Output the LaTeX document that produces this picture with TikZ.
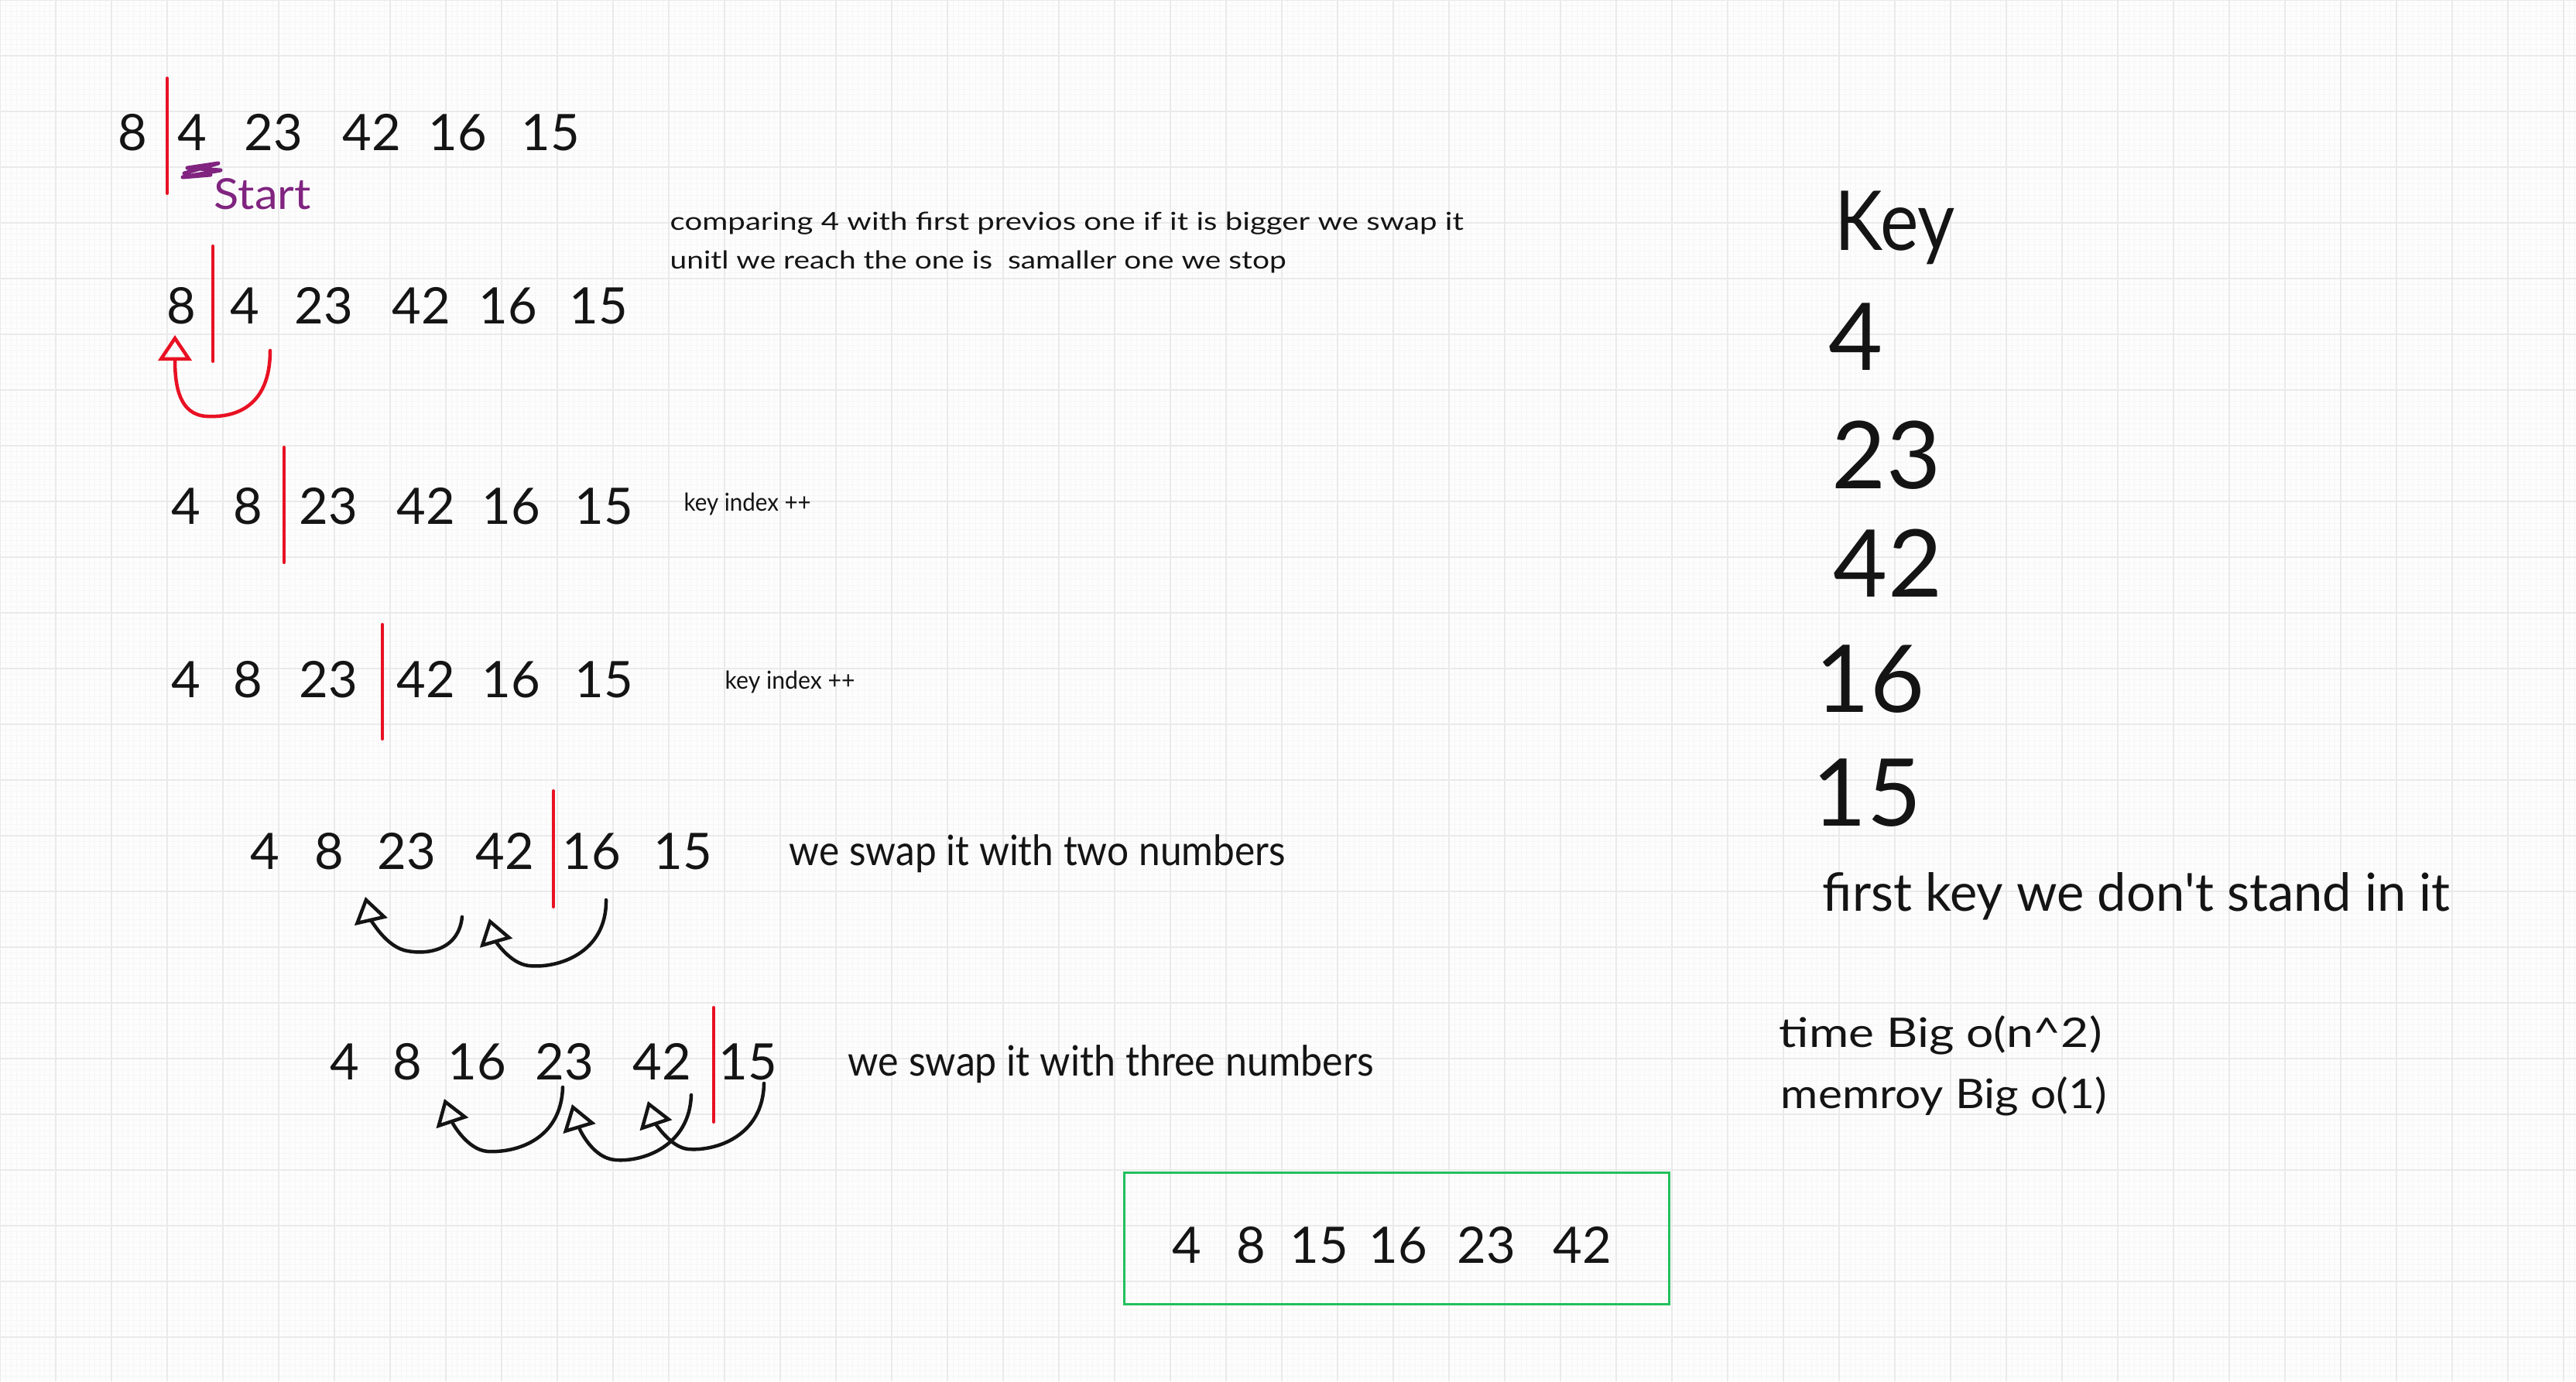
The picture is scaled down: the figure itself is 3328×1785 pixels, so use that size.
\documentclass[tikz,border=0pt]{standalone}
\usepackage{fontspec}
\usepackage{graphicx}
\usetikzlibrary{arrows.meta}
\newfontfamily\hand{Lato}
\definecolor{barred}{RGB}{232,17,35}
\definecolor{ink}{RGB}{20,20,20}
\definecolor{purp}{RGB}{128,36,128}
\definecolor{boxgreen}{RGB}{34,192,92}
\definecolor{gridmaj}{RGB}{234,234,234}
\definecolor{gridmin}{RGB}{246,246,246}
\definecolor{paper}{RGB}{253,253,253}
\newcommand\fitw[2]{\resizebox{#1mm}{\height}{#2}}
\begin{document}
\begin{tikzpicture}[x=0.1mm,y=-0.1mm,
  num/.style={font=\hand\fontsize{18.5}{22}\selectfont, inner sep=0pt, anchor=base, text=ink},
  keynum/.style={font=\hand\fontsize{34.4}{40}\selectfont, inner sep=0pt, anchor=base, text=ink},
  txt/.style={inner sep=0pt, anchor=base west, text=ink},
  small/.style={txt, font=\hand\fontsize{9.1}{11}\selectfont},
  mid/.style={txt, font=\hand\fontsize{15.4}{18}\selectfont},
  redbar/.style={draw=barred, line width=0.4mm, line cap=round},
  swaparrow/.style={draw=ink, line width=0.45mm, line cap=round,
    -{Triangle[open, length=3.3mm, width=4.3mm]}},
  redarrow/.style={swaparrow, draw=barred}]
\fill[paper] (0,0) rectangle (3328,1785);
\useasboundingbox (0,0) rectangle (3328,1785);
\draw[gridmin, line width=0.1mm, step=0.72mm] (0,0) grid (3328,1785);
\draw[gridmaj, line width=0.2mm, step=7.2mm] (0,0) grid (3328,1785);

% row 1
\foreach \x/\t [count=\i] in {171/8,248/4,353/23,480/42,591/16,711/15}
  \node[num] (ra\i) at (\x,194) {\t};
\draw[redbar] (216,101) -- (216,250);
\draw[purp, line width=0.5mm, line cap=round, line join=round]
  (238,224) -- (282,211) -- (242,217) -- (285,220) -- (236,229) -- (272,226);
\node[txt, font=\hand\fontsize{15.7}{18}\selectfont, text=purp] (start) at (276,270) {\fitw{12.5}{Start}};

% comment
\node[small] (c1) at (865,297) {\fitw{102.5}{comparing 4 with first previos one if it is bigger we swap it}};
\node[small] (c2) at (865,347) {\fitw{79.6}{unitl we reach the one is~~samaller one we stop}};

% row 2
\foreach \x/\t [count=\i] in {234/8,316/4,418/23,544/42,656/16,773/15}
  \node[num] (rb\i) at (\x,418) {\t};
\draw[redbar] (275,318) -- (275,467);
\coordinate (a2s) at (349,453);
\coordinate (a2e) at (226,433);
\draw[redarrow] (a2s) .. controls (349,525) and (305,540) .. (267,538)
  .. controls (232,536) and (226,500) .. (a2e);

% row 3
\foreach \x/\t [count=\i] in {240/4,320/8,424/23,550/42,660/16,780/15}
  \node[num] (rc\i) at (\x,677) {\t};
\draw[redbar] (367,578) -- (367,727);
\node[small] (k3) at (883,660) {\fitw{16.4}{key index ++}};

% row 4
\foreach \x/\t [count=\i] in {240/4,320/8,424/23,550/42,660/16,780/15}
  \node[num] (rd\i) at (\x,901) {\t};
\draw[redbar] (494,807) -- (494,955);
\node[small] (k4) at (936,890) {\fitw{16.8}{key index ++}};

% row 5
\foreach \x/\t [count=\i] in {342/4,425/8,525/23,652/42,764/16,882/15}
  \node[num] (re\i) at (\x,1123) {\t};
\draw[redbar] (715,1022) -- (715,1172);
\node[mid] (t5) at (1019,1118) {\fitw{64.1}{we swap it with two numbers}};
\coordinate (e1s) at (597,1185);
\coordinate (e1e) at (472,1159);
\coordinate (e2s) at (783,1163);
\coordinate (e2e) at (632,1187);
\draw[swaparrow] (e1s) .. controls (592,1232) and (545,1234) .. (522,1228)
  .. controls (495,1220) and (478,1185) .. (e1e);
\draw[swaparrow] (e2s) .. controls (784,1232) and (720,1252) .. (683,1248)
  .. controls (658,1245) and (640,1215) .. (e2e);

% row 6
\foreach \x/\t [count=\i] in {445/4,526/8,616/16,729/23,855/42,966/15}
  \node[num] (rf\i) at (\x,1395) {\t};
\draw[redbar] (922,1302) -- (922,1450);
\node[mid] (t6) at (1095,1390) {\fitw{67.9}{we swap it with three numbers}};
\coordinate (f1s) at (727,1405);
\coordinate (f1e) at (574,1420);
\coordinate (f2s) at (893,1415);
\coordinate (f2e) at (739,1427);
\coordinate (f3s) at (987,1400);
\coordinate (f3e) at (837,1423);
\draw[swaparrow] (f1s) .. controls (725,1472) and (668,1490) .. (630,1488)
  .. controls (603,1486) and (584,1450) .. (f1e);
\draw[swaparrow] (f2s) .. controls (891,1480) and (832,1502) .. (795,1499)
  .. controls (766,1497) and (749,1460) .. (f2e);
\draw[swaparrow] (f3s) .. controls (986,1468) and (925,1488) .. (889,1485)
  .. controls (866,1483) and (846,1450) .. (f3e);

% sorted result
\node[draw=boxgreen, line width=0.3mm, minimum width=70.4mm, minimum height=17mm, inner sep=0pt] (sorted) at (1804,1600) {};
\foreach \x/\t [count=\i] in {1533/4,1616/8,1704/15,1806/16,1920/23,2044/42}
  \node[num] (rg\i) at (\x,1632) {\t};

% key column
\node[txt, font=\hand\fontsize{30.4}{36}\selectfont] (key) at (2370,323) {\fitw{15.5}{Key}};
\foreach \x/\y/\t [count=\i] in {2398/478/4,2437/631/23,2439/771/42,2416/920/16,2412/1067/15}
  \node[keynum] (kn\i) at (\x,\y) {\t};
\node[txt, font=\hand\fontsize{19.3}{23}\selectfont] (fk) at (2354,1177) {\fitw{81.1}{first key we don\textquotesingle t stand in it}};

% complexity
\node[txt, font=\hand\fontsize{15}{18}\selectfont] (tm) at (2298,1353) {\fitw{41.7}{time Big o(n\textasciicircum 2)}};
\node[txt, font=\hand\fontsize{15}{18}\selectfont] (mm) at (2300,1432) {\fitw{42.1}{memroy Big o(1)}};
\end{tikzpicture}
\end{document}
